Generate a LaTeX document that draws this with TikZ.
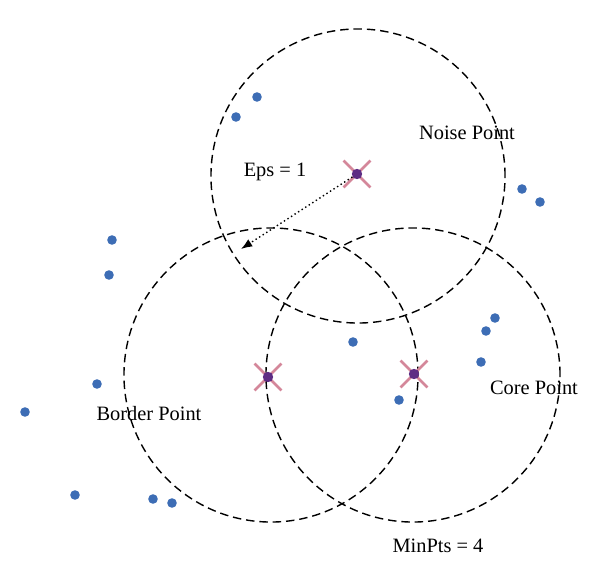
\documentclass[tikz,border=0pt]{standalone}
\usepackage{fontspec}
\setmainfont{Liberation Serif}
\usetikzlibrary{shapes.misc,arrows.meta}
\definecolor{dbDot}{HTML}{3D6DB5}
\definecolor{dbCross}{HTML}{D4879A}
\definecolor{dbCenter}{HTML}{5E2D84}
\tikzset{
    dbRegion/.style={
        circle,
        draw=black,
        line width=1pt,
        dash pattern=on 6pt off 3.5pt,
        minimum size=7.35cm,
        inner sep=0pt
    },
    dbPoint/.style={circle, fill=dbDot, minimum size=0.24cm, inner sep=0pt},
    dbMark/.style={
        cross out,
        draw=dbCross,
        line width=2pt,
        minimum size=0.6cm,
        inner sep=0pt
    },
    dbCore/.style={circle, fill=dbCenter, minimum size=0.26cm, inner sep=0pt},
    dbLabel/.style={font=\fontsize{14.5}{17}\selectfont, inner sep=1pt}
}
\begin{document}
\begin{tikzpicture}[x=0.025cm, y=-0.025cm]
\useasboundingbox (0,0) rectangle (600,571);

% eps neighbourhoods
\node[dbRegion] (noiseArea) at (358,176) {};
\node[dbRegion] (borderArea) at (271,375) {};
\node[dbRegion] (coreArea) at (413,375) {};

% data points
\foreach \px/\py [count=\i] in {257/97, 236/117, 522/189, 540/202, 112/240, 109/275,
    495/318, 486/331, 353/342, 481/362, 97/384, 399/400, 25/412, 75/495, 153/499, 172/503}
    \node[dbPoint] (p\i) at (\px,\py) {};

% marked points
\node[dbMark] (noiseX) at (357,174) {};
\node[dbCore] (noise) at (357,174) {};
\node[dbMark] (borderX) at (268,377) {};
\node[dbCore] (border) at (268,377) {};
\node[dbMark] (coreX) at (414,374) {};
\node[dbCore] (core) at (414,374) {};

% radius
\coordinate (epsEnd) at (241,249);
\draw[dotted, line width=1pt, -{Latex[length=8pt,width=6pt]}] (noise) -- (epsEnd);

% labels
\node[dbLabel] (epsLbl) at (275,172) {Eps = 1};
\node[dbLabel] (noiseLbl) at (467,133) {Noise Point};
\node[dbLabel] (borderLbl) at (149,414) {Border Point};
\node[dbLabel] (coreLbl) at (534,388) {Core Point};
\node[dbLabel] (minLbl) at (438,546) {MinPts = 4};
\end{tikzpicture}
\end{document}
